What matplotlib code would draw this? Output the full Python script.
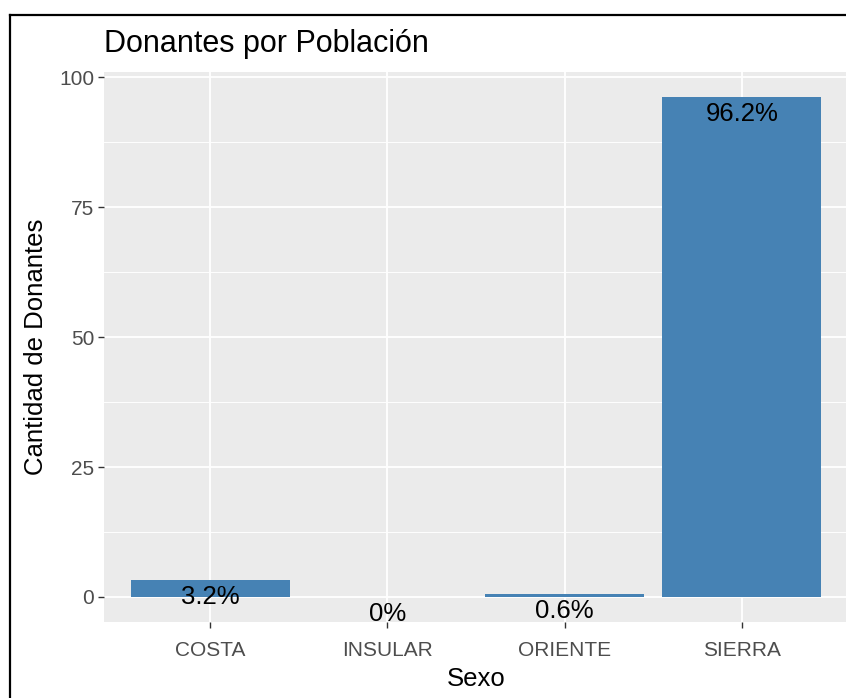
import matplotlib
matplotlib.use("Agg")
import matplotlib.pyplot as plt
from matplotlib.lines import Line2D

# data
regiones = ["COSTA", "INSULAR", "ORIENTE", "SIERRA"]
porcentajes = [3.2, 0.0, 0.6, 96.2]
etiquetas = ["3.2%", "0%", "0.6%", "96.2%"]
y_ticks = [0, 25, 50, 75, 100]

plt.rcParams["font.family"] = ["Liberation Sans", "DejaVu Sans"]

W, H = 846, 698
fig = plt.figure(figsize=(W / 100, H / 100), dpi=100)
fig.patch.set_facecolor("white")

# panel placement in pixels (left, top, right, bottom)
L, T, R, B = 104, 72, 848, 622
ax = fig.add_axes([L / W, (H - B) / H, (R - L) / W, (B - T) / H])
ax.set_facecolor("#EBEBEB")

x = list(range(len(regiones)))
ax.bar(x, porcentajes, width=0.9, color="#4682B4", zorder=2)
for xi, v, lab in zip(x, porcentajes, etiquetas):
    ax.annotate(lab, (xi, v), xytext=(0, -3.5), textcoords="offset points",
                ha="center", va="top", fontsize=18.5, color="black", zorder=3)

ymax = max(porcentajes)
pad = 0.05 * ymax
ax.set_ylim(-pad, ymax + pad)
ax.set_xlim(-0.6, len(regiones) - 0.4)

ax.set_xticks(x)
ax.set_xticklabels(regiones)
ax.set_yticks(y_ticks)
ax.set_yticks([12.5, 37.5, 62.5, 87.5], minor=True)
ax.grid(which="major", color="white", linewidth=1.3, zorder=0)
ax.grid(which="minor", axis="y", color="white", linewidth=0.65, zorder=0)
ax.set_axisbelow(True)

for s in ax.spines.values():
    s.set_visible(False)
ax.tick_params(axis="both", which="major", length=4, width=1, color="#333333",
               labelcolor="#4D4D4D", labelsize=15)
ax.tick_params(axis="y", which="major", pad=3)
ax.tick_params(axis="x", which="major", pad=10)
ax.tick_params(axis="both", which="minor", length=0)

ax.set_xlabel("Sexo", fontsize=18.5, labelpad=5)
ax.set_ylabel("Cantidad de Donantes", fontsize=18.5, labelpad=8)
fig.text(L / W, 1 - 44 / H, "Donantes por Población", fontsize=22,
         ha="left", va="center")

# screenshot frame on top and left
fig.add_artist(Line2D([9.5 / W, 9.5 / W], [0, 1 - 14.5 / H], color="black",
                      linewidth=1.6, transform=fig.transFigure))
fig.add_artist(Line2D([9.5 / W, 1], [1 - 14.5 / H, 1 - 14.5 / H], color="black",
                      linewidth=1.6, transform=fig.transFigure))

fig.savefig("out.png", dpi=100)
